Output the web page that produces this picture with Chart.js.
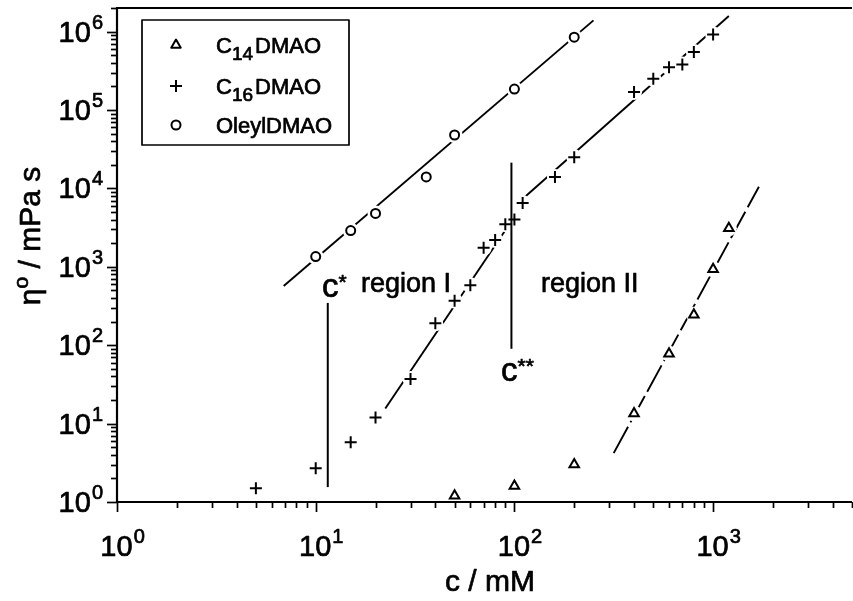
<!DOCTYPE html>
<html>
<head>
<meta charset="utf-8">
<script src="https://cdn.jsdelivr.net/npm/chart.js@4/dist/chart.umd.min.js"></script>
<style>
  html, body { margin: 0; padding: 0; background: #fff; overflow: hidden; }
  #wrap { position: relative; width: 860px; height: 601px; }
</style>
</head>
<body>
<div id="wrap"><canvas id="c" width="860" height="601"></canvas></div>
<script>
// Zero-shear viscosity (mPa s) against surfactant concentration (mM)
const c14Conc  = [50, 100, 200, 400, 600, 800, 1000, 1200];
const c14Visc  = [1.2, 1.6, 3.0, 13.5, 78, 245, 930, 3100];

const c16Conc  = [5, 10, 15, 20, 30, 40, 50, 60, 70, 80, 90, 100, 110, 160, 200, 400, 500, 600, 700, 800, 1000];
const c16Visc  = [1.5, 2.7, 5.8, 12, 37, 190, 370, 580, 1750, 2200, 3500, 4000, 6500, 14000, 25000, 170000, 250000, 350000, 380000, 550000, 920000];

const oleylConc = [10, 15, 20, 36, 50, 100, 200];
const oleylVisc = [1350, 2900, 4800, 14000, 48000, 185000, 850000];

// Power-law fits (end points of each straight line)
const oleylFitConc  = [6.9, 250];
const oleylFitVisc  = [570, 1390000];
const c16FitIConc   = [22.4, 97.7];
const c16FitIVisc   = [15.6, 3980];
const c16FitIIConc  = [106, 1200];
const c16FitIIVisc  = [6760, 1580000];
const c14FitConc    = [316, 1700];
const c14FitVisc    = [4.2, 10500];

// Critical concentrations c* and c**
const cStarConc      = [11.5, 11.5];
const cStarVisc      = [1.55, 346];
const cStarStarConc  = [96.6, 96.6];
const cStarStarVisc  = [90, 21300];

// Axis ticks
const xTickValues = [1, 10, 100, 1000];
const yTickValues = [1, 10, 100, 1000, 10000, 100000, 1000000];

const FONT = '"Liberation Sans", Arial, Helvetica, sans-serif';

const pts = (xs, ys) => xs.map((x, i) => ({ x: x, y: ys[i] }));

function lineSet(xs, ys, dash) {
  return {
    data: pts(xs, ys), showLine: true, pointRadius: 0, borderColor: '#000',
    borderWidth: 1.9, borderDash: dash || [], fill: false, order: 4
  };
}
function haloSet(xs, ys) {
  return {
    data: pts(xs, ys), showLine: false, pointStyle: 'circle', pointRadius: 8,
    pointBackgroundColor: '#fff', pointBorderWidth: 0, pointBorderColor: '#fff', order: 3
  };
}
function markSet(xs, ys, style, r) {
  return {
    data: pts(xs, ys), showLine: false, pointStyle: style, pointRadius: r,
    pointBackgroundColor: '#fff', pointBorderColor: '#000', pointBorderWidth: 2, order: 1
  };
}

// Frame, ticks, labels, legend and region annotations
const decorations = {
  id: 'decorations',
  afterDraw(chart) {
    const ctx = chart.ctx;
    const xs = chart.scales.x, ys = chart.scales.y;
    const a = chart.chartArea;
    ctx.save();
    ctx.fillStyle = '#000';
    ctx.strokeStyle = '#000';

    // frame
    ctx.lineWidth = 2.2;
    ctx.beginPath();
    ctx.moveTo(a.right, a.top); ctx.lineTo(a.left, a.top);
    ctx.lineTo(a.left, a.bottom); ctx.lineTo(a.right, a.bottom);
    ctx.stroke();

    // ticks
    ctx.lineWidth = 1.7;
    const xMin = xs.min, xMax = xs.max, yMin = ys.min, yMax = ys.max;
    for (let d = 0; d < 5; d++) {
      for (let m = 1; m <= 9; m++) {
        const v = m * Math.pow(10, d);
        if (v < xMin || v > xMax) continue;
        const px = Math.round(xs.getPixelForValue(v)) + 0.5;
        const len = m === 1 ? 10 : 6;
        ctx.beginPath(); ctx.moveTo(px, a.bottom); ctx.lineTo(px, a.bottom + len); ctx.stroke();
      }
    }
    for (let d = 0; d < 8; d++) {
      for (let m = 1; m <= 9; m++) {
        const v = m * Math.pow(10, d);
        if (v < yMin || v > yMax) continue;
        const py = Math.round(ys.getPixelForValue(v)) + 0.5;
        const len = m === 1 ? 10 : 6;
        ctx.beginPath(); ctx.moveTo(a.left, py); ctx.lineTo(a.left - len, py); ctx.stroke();
      }
    }

    // text with raised / lowered parts, slightly thickened
    function rich(parts, x, y, align) {
      let w = 0;
      parts.forEach(p => { ctx.font = p.font; p.w = ctx.measureText(p.t).width + (p.gap || 0); w += p.w; });
      let x0 = x;
      if (align === 'right') x0 = x - w;
      else if (align === 'center') x0 = x - w / 2;
      else if (align === 'centerFirst') x0 = x - parts[0].w / 2;
      ctx.textAlign = 'left';
      ctx.textBaseline = 'alphabetic';
      ctx.lineWidth = 0.7;
      ctx.lineJoin = 'round';
      parts.forEach(p => {
        ctx.font = p.font;
        ctx.fillText(p.t, x0, y - (p.dy || 0));
        ctx.strokeText(p.t, x0, y - (p.dy || 0));
        x0 += p.w;
      });
    }
    const big = '29px ' + FONT, sup = '20px ' + FONT;

    // tick labels
    xTickValues.forEach(v => {
      const px = xs.getPixelForValue(v);
      rich([{ t: '10', font: big, gap: 1 }, { t: String(Math.round(Math.log10(v))), font: sup, dy: 13 }],
           px, a.bottom + 54, 'centerFirst');
    });
    yTickValues.forEach(v => {
      const py = ys.getPixelForValue(v);
      rich([{ t: '10', font: big, gap: 1 }, { t: String(Math.round(Math.log10(v))), font: sup, dy: 13 }],
           a.left - 14, py + 10, 'right');
    });

    // axis titles
    const title = '30px ' + FONT;
    rich([{ t: 'c / mM', font: title }], 490, 591, 'center');
    ctx.save();
    ctx.translate(40, 236);
    ctx.rotate(-Math.PI / 2);
    rich([{ t: '\u03B7', font: title }, { t: 'o', font: '21px ' + FONT, dy: 12 },
          { t: ' / mPa s', font: title }], 0, 0, 'center');
    ctx.restore();

    // annotations
    const ann = '27px ' + FONT, cFont = '33px ' + FONT, star = '21px ' + FONT;
    rich([{ t: 'c', font: cFont }, { t: '*', font: star, dy: 8 }], 322, 297, 'left');
    rich([{ t: 'region I', font: ann }], 361, 292, 'left');
    rich([{ t: 'region II', font: ann }], 541, 292, 'left');
    rich([{ t: 'c', font: cFont }, { t: '**', font: star, dy: 8 }], 501, 381, 'left');

    // legend
    ctx.lineWidth = 1.7;
    ctx.fillStyle = '#fff';
    ctx.fillRect(142, 20, 207, 125);
    ctx.strokeRect(142, 20, 207, 125);
    const leg = '22px ' + FONT, sub = '19px ' + FONT;
    const rows = [
      { style: 'triangle', r: 5.5, parts: [{ t: 'C', font: leg }, { t: '14', font: sub, dy: -7, gap: 2 }, { t: 'DMAO', font: leg }] },
      { style: 'cross',    r: 6,   parts: [{ t: 'C', font: leg }, { t: '16', font: sub, dy: -7, gap: 2 }, { t: 'DMAO', font: leg }] },
      { style: 'circle',   r: 4.5, parts: [{ t: 'OleylDMAO', font: leg }] }
    ];
    const rowY = [45, 86, 125];
    rows.forEach((row, i) => {
      ctx.fillStyle = '#fff';
      ctx.strokeStyle = '#000';
      ctx.lineWidth = 2;
      Chart.helpers.drawPoint(ctx, {
        pointStyle: row.style, radius: row.r, rotation: 0, borderWidth: 2
      }, 176, rowY[i]);
      ctx.fillStyle = '#000';
      rich(row.parts, 216, rowY[i] + 8, 'left');
    });
    ctx.restore();
  }
};

const chart = new Chart(document.getElementById('c'), {
  type: 'scatter',
  data: {
    datasets: [
      markSet(c14Conc, c14Visc, 'triangle', 5.5),
      markSet(c16Conc, c16Visc, 'cross', 6),
      markSet(oleylConc, oleylVisc, 'circle', 4.5),
      { data: pts(cStarConc, cStarVisc), showLine: true, pointRadius: 0, borderColor: '#000', borderWidth: 2, order: 2 },
      { data: pts(cStarStarConc, cStarStarVisc), showLine: true, pointRadius: 0, borderColor: '#000', borderWidth: 2, order: 2 },
      haloSet(c14Conc, c14Visc),
      haloSet(c16Conc, c16Visc),
      haloSet(oleylConc, oleylVisc),
      lineSet(oleylFitConc, oleylFitVisc),
      lineSet(c16FitIConc, c16FitIVisc),
      lineSet(c16FitIIConc, c16FitIIVisc),
      lineSet(c14FitConc, c14FitVisc, [30, 5])
    ]
  },
  options: {
    responsive: false,
    animation: false,
    devicePixelRatio: 1,
    layout: { padding: { left: 117, top: 7, right: 3, bottom: 99 } },
    plugins: { legend: { display: false }, tooltip: { enabled: false } },
    scales: {
      x: { type: 'logarithmic', min: 1, max: 5000, display: false },
      y: { type: 'logarithmic', min: 1, max: 2000000, display: false }
    }
  },
  plugins: [decorations]
});
</script>
</body>
</html>
